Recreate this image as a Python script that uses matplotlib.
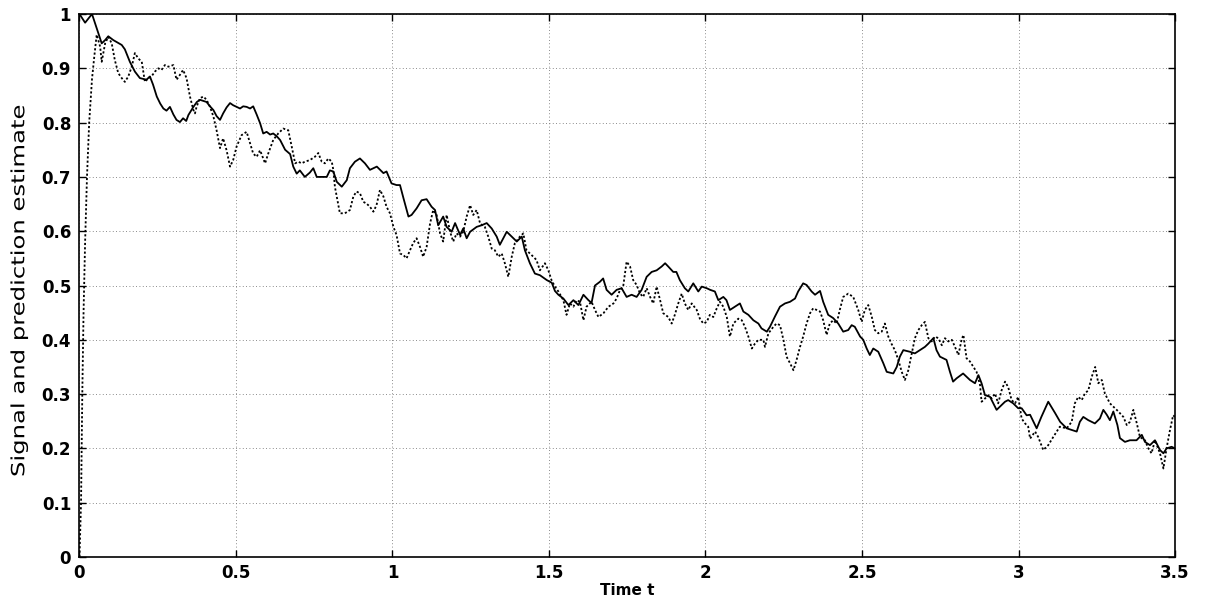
import matplotlib
matplotlib.use('Agg')
import matplotlib.pyplot as plt
from matplotlib.patheffects import AbstractPathEffect
from matplotlib.transforms import Affine2D

# signal (solid line)
signal_t = [0.0, 0.018, 0.04, 0.055, 0.071, 0.082, 0.092, 0.108, 0.12, 0.135, 0.145, 0.161, 0.177, 0.193,
            0.214, 0.225, 0.235, 0.247, 0.258, 0.268, 0.278, 0.289, 0.3, 0.31, 0.321, 0.331, 0.341, 0.348,
            0.364, 0.375, 0.385, 0.396, 0.406, 0.417, 0.428, 0.438, 0.449, 0.459, 0.47, 0.481, 0.491, 0.502,
            0.513, 0.523, 0.534, 0.545, 0.555, 0.566, 0.577, 0.587, 0.598, 0.609, 0.619, 0.63, 0.641, 0.657,
            0.673, 0.683, 0.694, 0.704, 0.72, 0.736, 0.747, 0.758, 0.775, 0.79, 0.8, 0.811, 0.822, 0.838,
            0.854, 0.864, 0.88, 0.896, 0.912, 0.928, 0.95, 0.971, 0.981, 0.997, 1.013, 1.024, 1.035, 1.051,
            1.061, 1.077, 1.093, 1.109, 1.125, 1.136, 1.146, 1.162, 1.173, 1.189, 1.2, 1.216, 1.226, 1.237,
            1.248, 1.269, 1.285, 1.301, 1.317, 1.333, 1.343, 1.365, 1.381, 1.397, 1.413, 1.423, 1.439, 1.455,
            1.471, 1.493, 1.509, 1.519, 1.53, 1.546, 1.562, 1.578, 1.594, 1.61, 1.626, 1.636, 1.647, 1.663,
            1.673, 1.684, 1.7, 1.716, 1.732, 1.748, 1.764, 1.78, 1.796, 1.812, 1.828, 1.844, 1.86, 1.871,
            1.881, 1.897, 1.907, 1.918, 1.934, 1.945, 1.961, 1.977, 1.988, 2.004, 2.015, 2.03, 2.041, 2.057,
            2.067, 2.078, 2.094, 2.11, 2.121, 2.137, 2.153, 2.169, 2.179, 2.196, 2.206, 2.222, 2.238, 2.254,
            2.27, 2.286, 2.296, 2.312, 2.323, 2.339, 2.35, 2.366, 2.376, 2.392, 2.408, 2.424, 2.44, 2.456,
            2.467, 2.477, 2.494, 2.504, 2.515, 2.525, 2.536, 2.552, 2.568, 2.579, 2.6, 2.611, 2.621, 2.632,
            2.653, 2.669, 2.685, 2.701, 2.712, 2.728, 2.738, 2.749, 2.77, 2.781, 2.791, 2.802, 2.823, 2.845,
            2.861, 2.872, 2.882, 2.893, 2.909, 2.93, 2.941, 2.957, 2.967, 2.983, 2.999, 3.01, 3.026, 3.037,
            3.058, 3.073, 3.095, 3.117, 3.133, 3.154, 3.17, 3.186, 3.196, 3.207, 3.223, 3.244, 3.26, 3.271,
            3.282, 3.292, 3.303, 3.316, 3.324, 3.34, 3.356, 3.377, 3.394, 3.404, 3.42, 3.436, 3.452, 3.463,
            3.473, 3.489, 3.5]
signal_v = [1.0, 0.984, 1.0, 0.974, 0.946, 0.952, 0.959, 0.952, 0.948, 0.943, 0.935, 0.912, 0.894, 0.882,
            0.879, 0.885, 0.87, 0.848, 0.835, 0.826, 0.822, 0.829, 0.815, 0.805, 0.801, 0.808, 0.803, 0.814,
            0.829, 0.838, 0.842, 0.84, 0.838, 0.83, 0.823, 0.812, 0.805, 0.817, 0.828, 0.836, 0.832, 0.829,
            0.826, 0.83, 0.829, 0.826, 0.83, 0.815, 0.799, 0.78, 0.783, 0.778, 0.78, 0.775, 0.768, 0.75,
            0.742, 0.719, 0.706, 0.712, 0.7, 0.708, 0.716, 0.7, 0.7, 0.7, 0.712, 0.71, 0.691, 0.682,
            0.694, 0.716, 0.728, 0.734, 0.725, 0.713, 0.719, 0.707, 0.71, 0.688, 0.685, 0.685, 0.661, 0.627,
            0.63, 0.642, 0.657, 0.659, 0.645, 0.639, 0.611, 0.627, 0.608, 0.599, 0.615, 0.593, 0.605, 0.587,
            0.599, 0.608, 0.611, 0.615, 0.605, 0.59, 0.575, 0.599, 0.59, 0.581, 0.59, 0.565, 0.541, 0.522,
            0.519, 0.51, 0.505, 0.49, 0.483, 0.476, 0.464, 0.473, 0.464, 0.483, 0.473, 0.468, 0.5, 0.507,
            0.513, 0.492, 0.483, 0.492, 0.495, 0.479, 0.483, 0.479, 0.492, 0.516, 0.525, 0.528, 0.535, 0.541,
            0.535, 0.525, 0.525, 0.51, 0.495, 0.489, 0.504, 0.489, 0.498, 0.495, 0.492, 0.489, 0.473, 0.479,
            0.473, 0.455, 0.461, 0.467, 0.452, 0.446, 0.436, 0.43, 0.421, 0.415, 0.424, 0.443, 0.461, 0.467,
            0.47, 0.476, 0.489, 0.504, 0.501, 0.489, 0.483, 0.49, 0.47, 0.446, 0.44, 0.43, 0.415, 0.418,
            0.427, 0.424, 0.406, 0.4, 0.384, 0.372, 0.384, 0.378, 0.357, 0.341, 0.338, 0.35, 0.369, 0.381,
            0.378, 0.375, 0.381, 0.387, 0.393, 0.403, 0.381, 0.369, 0.363, 0.341, 0.323, 0.329, 0.338, 0.326,
            0.32, 0.335, 0.32, 0.298, 0.295, 0.271, 0.277, 0.286, 0.289, 0.283, 0.274, 0.274, 0.261, 0.262,
            0.237, 0.258, 0.286, 0.265, 0.249, 0.237, 0.234, 0.231, 0.249, 0.258, 0.252, 0.246, 0.255, 0.271,
            0.262, 0.252, 0.268, 0.243, 0.219, 0.212, 0.215, 0.215, 0.225, 0.212, 0.206, 0.215, 0.197, 0.191,
            0.2, 0.203, 0.2]

# prediction estimate (dotted line)
estimate_t = [0.0, 0.005, 0.009, 0.013, 0.018, 0.024, 0.031, 0.04, 0.047, 0.055, 0.066, 0.071, 0.082, 0.092,
              0.103, 0.113, 0.124, 0.135, 0.145, 0.156, 0.167, 0.177, 0.188, 0.199, 0.204, 0.209, 0.22, 0.23,
              0.241, 0.252, 0.262, 0.273, 0.284, 0.3, 0.31, 0.321, 0.331, 0.342, 0.353, 0.364, 0.369, 0.374,
              0.385, 0.396, 0.406, 0.417, 0.428, 0.438, 0.449, 0.459, 0.47, 0.481, 0.491, 0.502, 0.518, 0.534,
              0.545, 0.555, 0.566, 0.577, 0.593, 0.603, 0.619, 0.635, 0.651, 0.667, 0.678, 0.689, 0.699, 0.71,
              0.72, 0.736, 0.752, 0.763, 0.774, 0.784, 0.795, 0.806, 0.811, 0.816, 0.824, 0.832, 0.848, 0.864,
              0.875, 0.885, 0.896, 0.907, 0.917, 0.928, 0.939, 0.949, 0.96, 0.971, 0.981, 0.992, 1.003, 1.013,
              1.024, 1.035, 1.045, 1.056, 1.066, 1.077, 1.088, 1.098, 1.109, 1.12, 1.13, 1.141, 1.152, 1.162,
              1.173, 1.184, 1.194, 1.205, 1.216, 1.226, 1.237, 1.248, 1.258, 1.269, 1.28, 1.295, 1.306, 1.317,
              1.327, 1.338, 1.349, 1.359, 1.37, 1.381, 1.391, 1.407, 1.418, 1.428, 1.439, 1.45, 1.46, 1.471,
              1.487, 1.498, 1.508, 1.519, 1.53, 1.546, 1.556, 1.567, 1.578, 1.588, 1.599, 1.61, 1.62, 1.636,
              1.647, 1.658, 1.674, 1.69, 1.706, 1.716, 1.727, 1.737, 1.748, 1.759, 1.769, 1.78, 1.791, 1.801,
              1.812, 1.823, 1.833, 1.844, 1.855, 1.865, 1.881, 1.892, 1.902, 1.913, 1.924, 1.934, 1.945, 1.956,
              1.972, 1.982, 1.993, 2.004, 2.014, 2.025, 2.036, 2.046, 2.057, 2.068, 2.078, 2.089, 2.105, 2.116,
              2.126, 2.137, 2.148, 2.158, 2.169, 2.185, 2.19, 2.201, 2.217, 2.227, 2.238, 2.249, 2.259, 2.27,
              2.281, 2.291, 2.302, 2.312, 2.323, 2.334, 2.344, 2.355, 2.366, 2.376, 2.387, 2.397, 2.408, 2.419,
              2.429, 2.44, 2.456, 2.472, 2.488, 2.499, 2.509, 2.52, 2.531, 2.541, 2.552, 2.563, 2.573, 2.584,
              2.594, 2.605, 2.616, 2.627, 2.637, 2.648, 2.659, 2.669, 2.68, 2.691, 2.701, 2.712, 2.723, 2.733,
              2.744, 2.755, 2.765, 2.776, 2.787, 2.797, 2.808, 2.818, 2.824, 2.834, 2.845, 2.856, 2.866, 2.877,
              2.882, 2.893, 2.904, 2.914, 2.925, 2.935, 2.946, 2.957, 2.967, 2.978, 2.989, 2.999, 3.01, 3.021,
              3.031, 3.037, 3.053, 3.063, 3.079, 3.095, 3.111, 3.132, 3.154, 3.17, 3.18, 3.191, 3.202, 3.212,
              3.223, 3.234, 3.245, 3.255, 3.266, 3.276, 3.292, 3.308, 3.319, 3.335, 3.346, 3.356, 3.367, 3.378,
              3.388, 3.404, 3.415, 3.425, 3.436, 3.452, 3.463, 3.473, 3.484, 3.494, 3.5]
estimate_v = [0.0, 0.1, 0.3, 0.45, 0.58, 0.7, 0.8, 0.88, 0.92, 0.962, 0.94, 0.912, 0.946, 0.958,
              0.946, 0.915, 0.891, 0.882, 0.875, 0.885, 0.903, 0.928, 0.918, 0.912, 0.894, 0.875, 0.882, 0.885,
              0.894, 0.9, 0.897, 0.906, 0.903, 0.906, 0.879, 0.888, 0.897, 0.882, 0.848, 0.823, 0.817, 0.829,
              0.845, 0.848, 0.842, 0.829, 0.811, 0.786, 0.753, 0.771, 0.749, 0.719, 0.731, 0.756, 0.777, 0.783,
              0.762, 0.743, 0.737, 0.749, 0.725, 0.743, 0.768, 0.78, 0.789, 0.786, 0.756, 0.725, 0.728, 0.725,
              0.728, 0.731, 0.737, 0.744, 0.728, 0.725, 0.734, 0.728, 0.713, 0.682, 0.657, 0.633, 0.633, 0.639,
              0.664, 0.673, 0.67, 0.654, 0.651, 0.645, 0.636, 0.648, 0.676, 0.664, 0.645, 0.633, 0.608, 0.593,
              0.559, 0.556, 0.55, 0.565, 0.578, 0.587, 0.571, 0.553, 0.571, 0.614, 0.639, 0.63, 0.596, 0.581,
              0.63, 0.599, 0.581, 0.596, 0.59, 0.599, 0.627, 0.648, 0.63, 0.639, 0.614, 0.608, 0.59, 0.568,
              0.565, 0.553, 0.559, 0.541, 0.516, 0.553, 0.578, 0.59, 0.596, 0.565, 0.559, 0.553, 0.547, 0.528,
              0.541, 0.528, 0.51, 0.498, 0.489, 0.473, 0.446, 0.467, 0.461, 0.473, 0.47, 0.436, 0.461, 0.47,
              0.455, 0.442, 0.449, 0.461, 0.467, 0.476, 0.492, 0.498, 0.544, 0.535, 0.51, 0.501, 0.485, 0.479,
              0.495, 0.479, 0.467, 0.498, 0.473, 0.449, 0.442, 0.43, 0.446, 0.467, 0.485, 0.467, 0.455, 0.467,
              0.455, 0.439, 0.43, 0.433, 0.446, 0.442, 0.458, 0.47, 0.461, 0.442, 0.406, 0.43, 0.439, 0.436,
              0.424, 0.406, 0.384, 0.393, 0.4, 0.4, 0.387, 0.412, 0.424, 0.43, 0.427, 0.4, 0.369, 0.357,
              0.344, 0.363, 0.387, 0.406, 0.43, 0.449, 0.458, 0.455, 0.452, 0.436, 0.409, 0.43, 0.436, 0.43,
              0.455, 0.479, 0.485, 0.479, 0.455, 0.433, 0.455, 0.464, 0.443, 0.418, 0.412, 0.415, 0.43, 0.406,
              0.393, 0.381, 0.363, 0.341, 0.326, 0.344, 0.375, 0.403, 0.418, 0.427, 0.433, 0.403, 0.397, 0.406,
              0.403, 0.39, 0.403, 0.397, 0.4, 0.387, 0.372, 0.4, 0.409, 0.366, 0.36, 0.35, 0.341, 0.317,
              0.286, 0.292, 0.298, 0.292, 0.301, 0.283, 0.307, 0.323, 0.313, 0.289, 0.283, 0.295, 0.255, 0.246,
              0.24, 0.218, 0.231, 0.221, 0.197, 0.206, 0.221, 0.24, 0.237, 0.249, 0.283, 0.295, 0.289, 0.301,
              0.307, 0.332, 0.35, 0.32, 0.326, 0.301, 0.283, 0.274, 0.268, 0.258, 0.243, 0.249, 0.271, 0.246,
              0.221, 0.215, 0.2, 0.191, 0.215, 0.191, 0.163, 0.2, 0.234, 0.261, 0.258]

xticks = [0, 0.5, 1, 1.5, 2, 2.5, 3, 3.5]
xticklabels = ['0', '0.5', '1', '1.5', '2', '2.5', '3', '3.5']
yticks = [0, 0.1, 0.2, 0.3, 0.4, 0.5, 0.6, 0.7, 0.8, 0.9, 1]
yticklabels = ['0', '0.1', '0.2', '0.3', '0.4', '0.5', '0.6', '0.7', '0.8', '0.9', '1']


class Squeeze(AbstractPathEffect):
    # flattens the rotated y label across its line direction
    def __init__(self, sx):
        super().__init__()
        self.sx = sx

    def draw_path(self, renderer, gc, tpath, affine, rgbFace=None):
        ext = affine.transform_path(tpath).get_extents()
        cx = (ext.x0 + ext.x1) / 2
        tr = affine + Affine2D().translate(-cx, 0).scale(self.sx, 1).translate(cx, 0)
        renderer.draw_path(gc, tpath, tr, rgbFace)


plt.rcParams['font.family'] = ['DejaVu Sans']

fig = plt.figure(figsize=(12.06, 5.99), dpi=100)
ax = fig.add_axes([0.0659, 0.0701, 0.9084, 0.9065])

ax.plot(signal_t, signal_v, color='black', linewidth=1.3, linestyle='-')
ax.plot(estimate_t, estimate_v, color='black', linewidth=1.3, linestyle=(0, (1.2, 1.2)))

ax.set_xlim(0, 3.5)
ax.set_ylim(0, 1)
ax.set_xticks(xticks)
ax.set_xticklabels(xticklabels)
ax.set_yticks(yticks)
ax.set_yticklabels(yticklabels)
ax.tick_params(direction='in', length=5, width=1, labelsize=12, top=True, right=True,
               labeltop=False, labelright=False)
ax.tick_params(axis='y', pad=6)
ax.tick_params(axis='x', pad=5)
for lab in ax.get_xticklabels() + ax.get_yticklabels():
    lab.set_fontweight('bold')
ax.grid(True, color='#666666', linestyle=(0, (1, 3)), linewidth=0.6)
for sp in ax.spines.values():
    sp.set_linewidth(1.2)

ax.set_xlabel('Time t', fontsize=11, fontweight='bold', labelpad=1)
ylab = ax.set_ylabel('Signal and prediction estimate', fontsize=17.5)
ax.yaxis.set_label_coords(-0.0443, 0.49)
ylab.set_path_effects([Squeeze(0.75)])

fig.savefig('out.png', dpi=100)
